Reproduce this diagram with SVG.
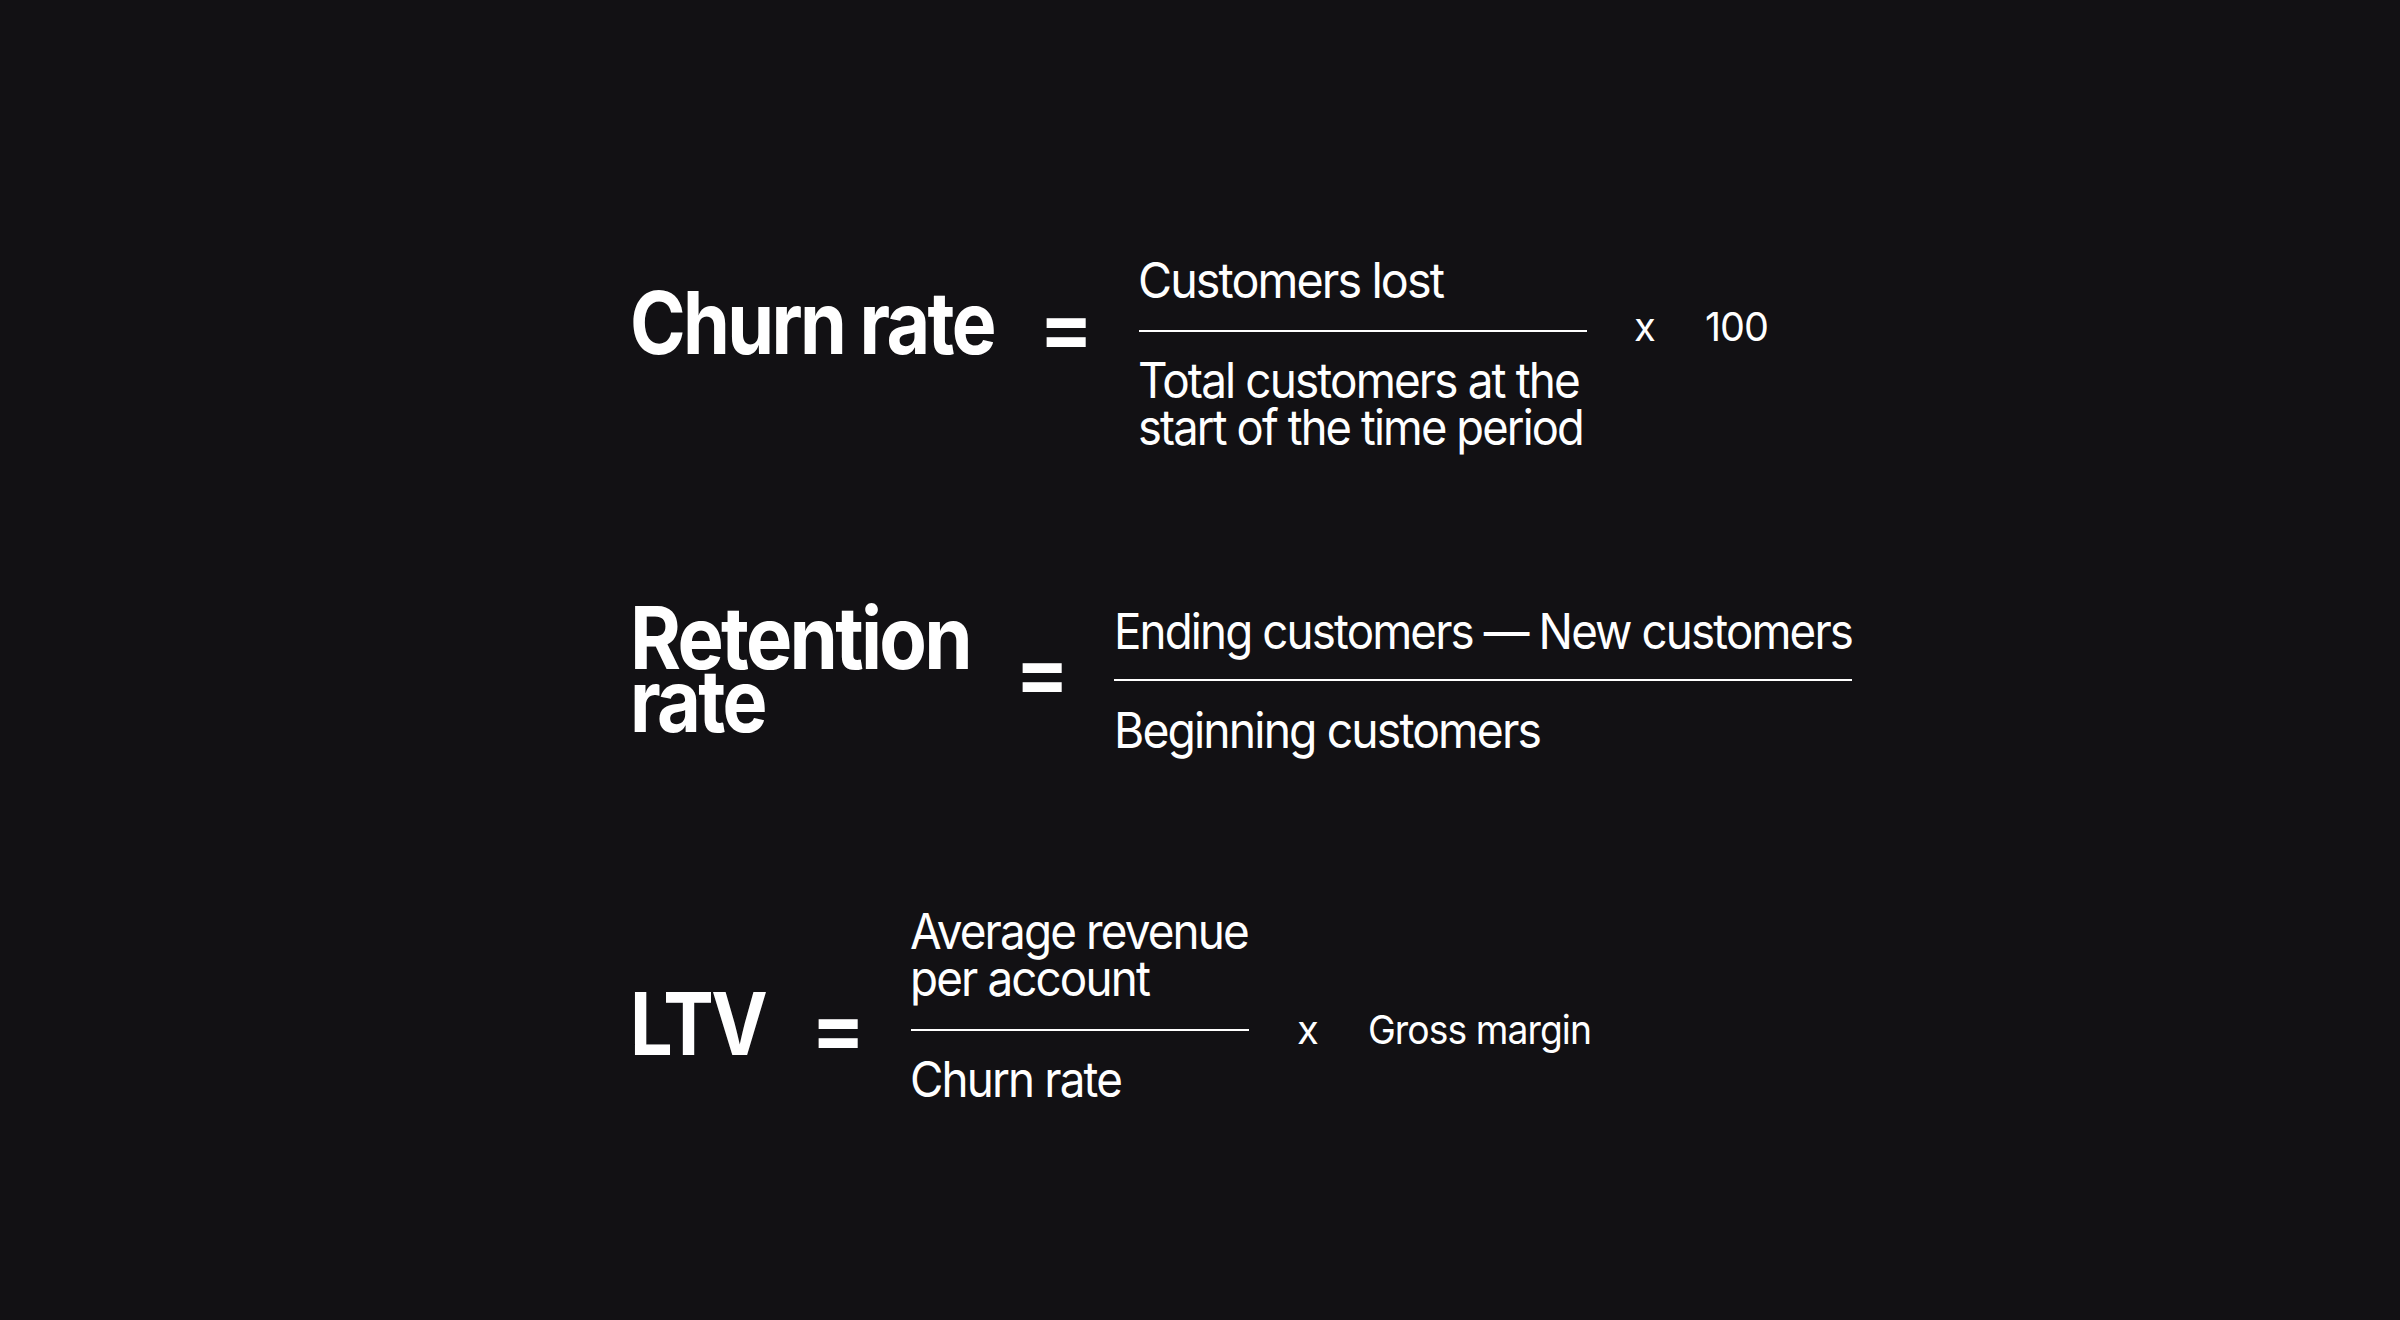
<svg xmlns="http://www.w3.org/2000/svg" width="2400" height="1320" viewBox="0 0 2400 1320">
<style>
.t{font-family:Inter,"Liberation Sans",sans-serif;fill:#ffffff}
.h{font-size:86px;font-weight:700;letter-spacing:-3px}
.eq{font-size:80px;font-weight:700}
.b{font-size:49px;letter-spacing:-2px}
.s{font-size:40px;letter-spacing:-1px}
.bar{stroke:#ffffff;stroke-width:2}
</style>
<rect width="2400" height="1320" fill="#121114"/>
<g id="churn">
<text class="t h" x="630" y="354" textLength="364" lengthAdjust="spacingAndGlyphs">Churn rate</text>
<text class="t eq" x="1039" y="356">=</text>
<text class="t b" x="1138" y="298" textLength="305" lengthAdjust="spacingAndGlyphs">Customers lost</text>
<line class="bar" x1="1139" y1="331" x2="1587" y2="331"/>
<text class="t b" x="1138" y="398" textLength="441" lengthAdjust="spacingAndGlyphs">Total customers at the</text>
<text class="t b" x="1138" y="445" textLength="445" lengthAdjust="spacingAndGlyphs">start of the time period</text>
<text class="t s" x="1634" y="341">x</text>
<text class="t s" x="1705" y="341" textLength="63" lengthAdjust="spacingAndGlyphs">100</text>
</g>
<g id="retention">
<text class="t h" x="630" y="669" textLength="340" lengthAdjust="spacingAndGlyphs">Retention</text>
<text class="t h" x="630" y="732" textLength="135" lengthAdjust="spacingAndGlyphs">rate</text>
<text class="t eq" x="1015" y="701">=</text>
<text class="t b" x="1114" y="649" textLength="738" lengthAdjust="spacingAndGlyphs">Ending customers — New customers</text>
<line class="bar" x1="1114" y1="680" x2="1852" y2="680"/>
<text class="t b" x="1114" y="748" textLength="426" lengthAdjust="spacingAndGlyphs">Beginning customers</text>
</g>
<g id="ltv">
<text class="t h" x="630" y="1055" textLength="135" lengthAdjust="spacingAndGlyphs">LTV</text>
<text class="t eq" x="811" y="1057">=</text>
<text class="t b" x="910" y="949" textLength="338" lengthAdjust="spacingAndGlyphs">Average revenue</text>
<text class="t b" x="910" y="996" textLength="239" lengthAdjust="spacingAndGlyphs">per account</text>
<line class="bar" x1="911" y1="1030" x2="1249" y2="1030"/>
<text class="t b" x="910" y="1097" textLength="211" lengthAdjust="spacingAndGlyphs">Churn rate</text>
<text class="t s" x="1297" y="1044">x</text>
<text class="t s" x="1368" y="1044" textLength="223" lengthAdjust="spacingAndGlyphs">Gross margin</text>
</g>
<g id="connectors"/>
</svg>
